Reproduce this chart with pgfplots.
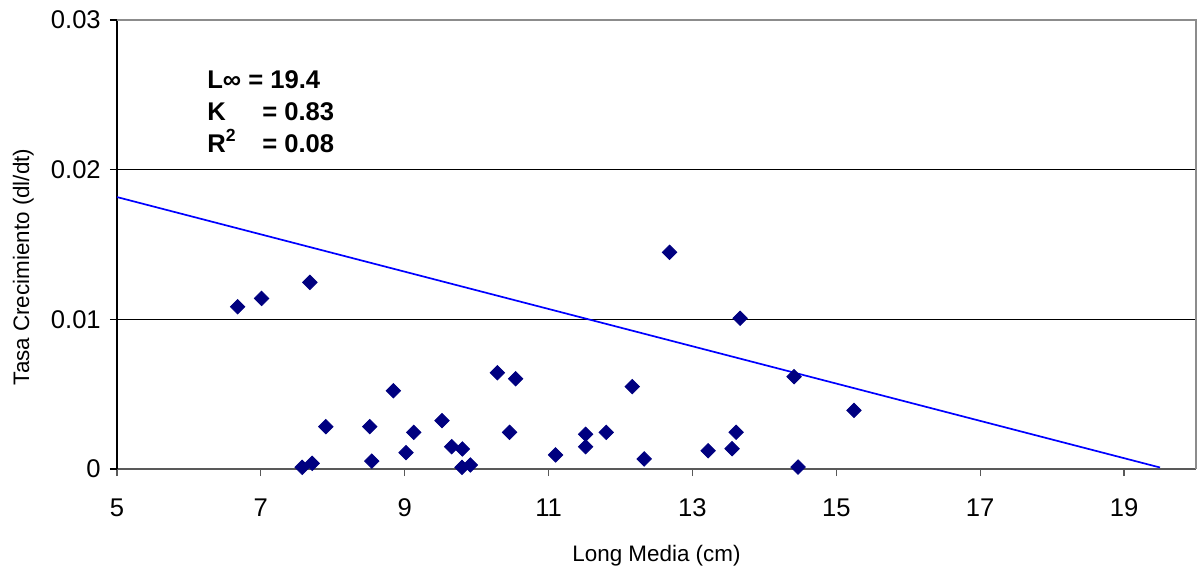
\documentclass[border=0pt]{standalone}
\usepackage{pgfplots}
\pgfplotsset{compat=1.18}
\usepackage{fontspec}
\setmainfont{Liberation Sans}
\definecolor{navyc}{RGB}{0,0,128}
\definecolor{lineblue}{RGB}{0,0,255}
\begin{document}
\begin{tikzpicture}
\useasboundingbox (-58.5pt,-50pt) rectangle (542pt,234.5pt);
\begin{axis}[
  at={(0,0)}, anchor=south west,
  scale only axis, width=539.5pt, height=224.5pt,
  xmin=5, xmax=20, ymin=0, ymax=0.03,
  axis x line=bottom, axis y line=left,
  x axis line style={-, draw=black!65, line width=1pt},
  y axis line style={-, draw=black, line width=0.6pt},
  xtick={5,7,...,19},
  ytick={0,0.01,0.02,0.03},
  yticklabels={0,0.01,0.02,0.03},
  scaled y ticks=false,
  tick align=outside,
  major tick length=3.6pt,
  x tick style={black!65, line width=0.6pt},
  y tick style={black, line width=0.6pt},
  /pgf/number format/assume math mode=true,
  tick label style={font=\fontsize{12.8}{15}\selectfont},
  xticklabel style={anchor=base, yshift=-20pt},
  yticklabel style={anchor=east, xshift=-1pt},
  ymajorgrids, grid style={black, line width=0.5pt},
  xlabel={Long Media (cm)},
  ylabel={Tasa Crecimiento (dl/dt)},
  label style={font=\fontsize{11.2}{13}\selectfont},
  xlabel style={at={(axis description cs:0.5,0)}, anchor=base, yshift=-46pt},
  ylabel style={at={(axis description cs:-0.0815,0.45)}, anchor=base, rotate=0},
  clip=false,
]
\draw[black!45, line width=0.75pt] (rel axis cs:0,1) -- (rel axis cs:1,1) -- (rel axis cs:1,0);
\addplot[lineblue, line width=0.85pt, no marks] coordinates {(5,0.01817) (19.5,0.0001)};
\addplot[only marks, mark=square*, mark size=2.55pt, mark options={rotate=45, fill=navyc, draw=navyc}] coordinates {
(6.676,0.01084) (7.010,0.01140) (7.681,0.01247) (7.574,0.00011) (7.713,0.00038)
(7.903,0.00283) (8.514,0.00283) (8.542,0.00053) (8.843,0.00523) (9.018,0.00109)
(9.125,0.00245) (9.518,0.00323) (9.653,0.00149) (9.801,0.00134) (9.796,0.00011)
(9.913,0.00027) (10.288,0.00643) (10.542,0.00603) (10.458,0.00245) (11.097,0.00094)
(11.514,0.00232) (11.514,0.00149) (11.801,0.00245) (12.163,0.00550) (12.329,0.00067)
(12.681,0.01448) (13.218,0.00122) (13.551,0.00136) (13.607,0.00245) (13.663,0.01007)
(14.413,0.00617) (14.468,0.00013) (15.245,0.00392)
};
\node[anchor=base west, font=\bfseries\fontsize{12.8}{15}\selectfont, inner sep=0pt] at (axis cs:6.25,0.02545) {L∞ = 19.4};
\node[anchor=base west, font=\bfseries\fontsize{12.8}{15}\selectfont, inner sep=0pt] at (axis cs:6.25,0.02331) {\makebox[27.5pt][l]{K}= 0.83};
\node[anchor=base west, font=\bfseries\fontsize{12.8}{15}\selectfont, inner sep=0pt] at (axis cs:6.25,0.02118) {\makebox[27.5pt][l]{R\raisebox{0.42em}{\fontsize{8.8}{9}\selectfont 2}}= 0.08};
\end{axis}
\end{tikzpicture}
\end{document}
